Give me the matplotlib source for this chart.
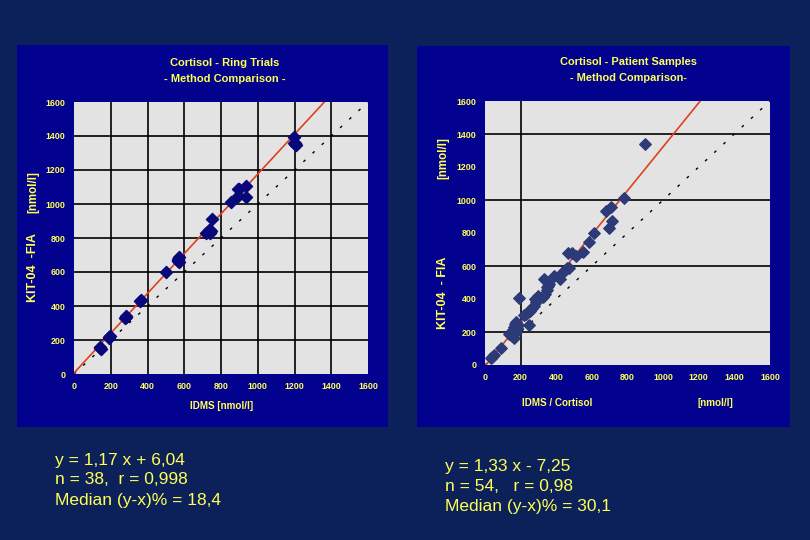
import numpy as np
import matplotlib.pyplot as plt
from matplotlib.patches import Rectangle

# ring trials (left panel)
ring_x = [140, 145, 191, 195, 282, 285, 278, 359, 362, 499, 565, 570, 573, 568,
          720, 728, 735, 745, 738, 752, 855, 892, 892, 937, 937, 1196, 1200,
          1205, 1210, 1198, 142, 190, 283, 565, 732, 740, 1202, 900]
ring_y = [155, 150, 216, 222, 333, 340, 328, 429, 433, 598, 670, 690, 660, 665,
          828, 835, 845, 840, 850, 912, 1010, 1086, 1047, 1104, 1039, 1392,
          1350, 1357, 1345, 1360, 158, 212, 338, 675, 838, 832, 1352, 1090]

# patient samples (right panel)
pat_x = [32, 40, 51, 90, 137, 145, 150, 155, 160, 165, 170, 175, 180, 187,
         193, 219, 230, 240, 249, 255, 265, 275, 285, 300, 324, 331, 337, 346,
         350, 355, 361, 387, 421, 430, 440, 450, 460, 470, 468, 487, 511, 552,
         586, 612, 679, 705, 698, 711, 780, 896, 160, 175, 280, 260]
pat_y = [40, 50, 61, 105, 190, 200, 175, 210, 165, 230, 250, 260, 225, 240,
         404, 303, 310, 320, 242, 330, 345, 360, 380, 420, 414, 521, 430, 455,
         470, 480, 490, 541, 519, 560, 565, 575, 585, 590, 677, 681, 663, 687,
         747, 802, 935, 956, 828, 875, 1010, 1339, 185, 200, 400, 340]

ticks = [0, 200, 400, 600, 800, 1000, 1200, 1400, 1600]
ring_fit = (1.17, 6.04)
pat_fit = (1.33, -7.25)

ring_stats = ['y = 1,17 x + 6,04', 'n = 38,  r = 0,998', 'Median (y-x)% = 18,4']
pat_stats = ['y = 1,33 x - 7,25', 'n = 54,   r = 0,98', 'Median (y-x)% = 30,1']

BG = '#0c2159'
PANEL = '#02028e'
YEL = '#ffff55'
PLOT_BG = '#e3e3e3'

plt.rcParams['font.family'] = ['Liberation Sans', 'DejaVu Sans']

fig = plt.figure(figsize=(8.1, 5.4), dpi=100)
fig.patch.set_facecolor(BG)

W, H = 810, 540


def fx(px):
    return px / W


def fy(py):
    return 1 - py / H


# blue panels behind the charts
for (x0, y0, x1, y1) in [(17, 45, 388, 427), (417, 46, 790, 427)]:
    fig.patches.append(Rectangle((fx(x0), fy(y1)), fx(x1 - x0), (y1 - y0) / H,
                                 transform=fig.transFigure, facecolor=PANEL,
                                 edgecolor='none', zorder=-5))


def setup_axes(rect, hgrid, vgrid):
    ax = fig.add_axes(rect)
    ax.set_zorder(2)
    ax.set_facecolor(PLOT_BG)
    ax.set_xlim(0, 1600)
    ax.set_ylim(0, 1600)
    ax.set_xticks(ticks)
    ax.set_yticks(ticks)
    ax.tick_params(length=0, colors=YEL, labelsize=6.4, pad=6)
    for lab in ax.get_xticklabels() + ax.get_yticklabels():
        lab.set_fontweight('bold')
    for s in ax.spines.values():
        s.set_visible(False)
    for v in hgrid:
        ax.axhline(v, color='black', lw=1.2, zorder=1)
    for v in vgrid:
        ax.axvline(v, color='black', lw=1.2, zorder=1)
    ax.plot([0, 1600], [0, 1600], color='black', lw=1,
            linestyle=(0, (2, 7)), zorder=2)
    return ax


# left chart
ax1 = setup_axes([fx(74), fy(374), fx(368 - 74), (374 - 102) / H],
                 ticks[1:-1], ticks[1:-1])
xs = np.array([0, (1600 - ring_fit[1]) / ring_fit[0]])
ax1.plot(xs, ring_fit[0] * xs + ring_fit[1], color='#e0401e', lw=1.2, zorder=3)
ax1.scatter(ring_x, ring_y, marker='D', s=38, color='#08087a', zorder=4)

# right chart
ax2 = setup_axes([fx(485), fy(365), fx(770 - 485), (365 - 101) / H],
                 [200, 600, 1000, 1400], [200])
xs = np.array([(0 - pat_fit[1]) / pat_fit[0], (1600 - pat_fit[1]) / pat_fit[0]])
ax2.plot(xs, pat_fit[0] * xs + pat_fit[1], color='#e0401e', lw=1.2, zorder=3)
ax2.scatter(pat_x, pat_y, marker='D', s=34, color='#2c3a78', zorder=4)

# titles and labels
tk = dict(color=YEL, fontweight='bold', ha='center', va='center')
fig.text(fx(225), fy(63), 'Cortisol - Ring Trials', fontsize=8, **tk)
fig.text(fx(225), fy(79), '- Method Comparison -', fontsize=8, **tk)
fig.text(fx(628), fy(62), 'Cortisol - Patient Samples', fontsize=7.9, **tk)
fig.text(fx(628), fy(78), '- Method Comparison-', fontsize=7.9, **tk)

fig.text(fx(222), fy(406), 'IDMS [nmol/l]', fontsize=7.1, **tk)
fig.text(fx(557), fy(403), 'IDMS / Cortisol', fontsize=7.1, **tk)
fig.text(fx(715), fy(403), '[nmol/l]', fontsize=7.1, **tk)

fig.text(fx(33), fy(268), 'KIT-04  -FIA', fontsize=9, rotation=90, **tk)
fig.text(fx(33), fy(192), '[nmol/l]', fontsize=8.3, rotation=90, **tk)
fig.text(fx(443), fy(293), 'KIT-04  - FIA', fontsize=9, rotation=90, **tk)
fig.text(fx(443), fy(158), '[nmol/l]', fontsize=8.3, rotation=90, **tk)

# regression stats below the charts
for i, line in enumerate(ring_stats):
    fig.text(fx(55), fy(460 + 20 * i), line, color=YEL, fontsize=12.5,
             ha='left', va='center')
for i, line in enumerate(pat_stats):
    fig.text(fx(445), fy(466 + 20.5 * i), line, color=YEL, fontsize=12.5,
             ha='left', va='center')

fig.savefig('out.png', dpi=100, facecolor=fig.get_facecolor())
